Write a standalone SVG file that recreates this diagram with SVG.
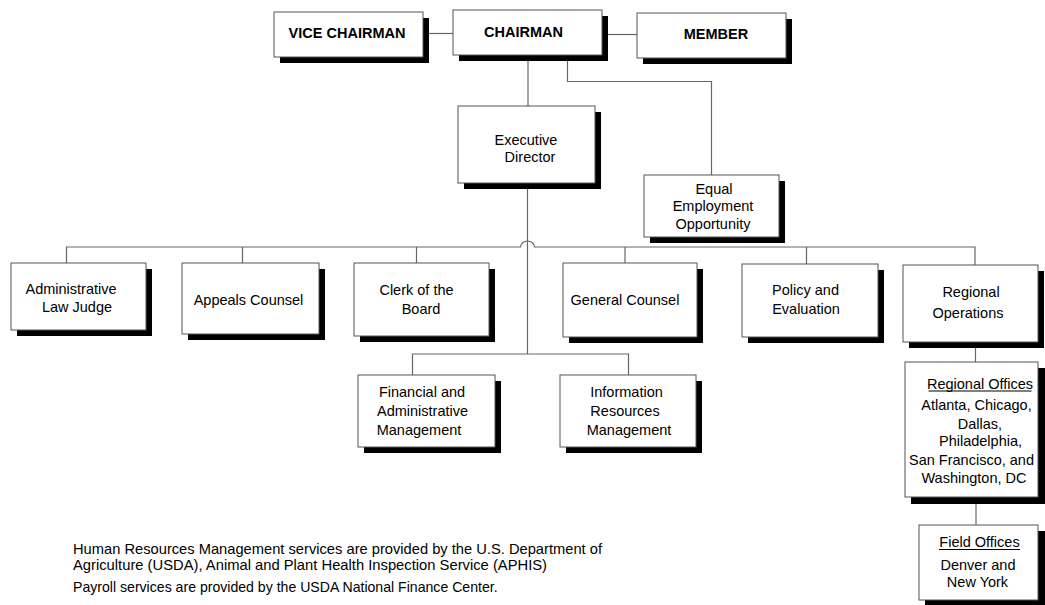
<svg xmlns="http://www.w3.org/2000/svg" width="1045" height="605" viewBox="0 0 1045 605">
<style>
.sh{fill:#000}
.bx{fill:#fff;stroke:#555;stroke-width:1}
.t{font-family:"Liberation Sans",Arial,sans-serif;font-size:14.5px;fill:#000;text-anchor:middle}
.b{font-weight:bold}
.n{font-family:"Liberation Sans",Arial,sans-serif;font-size:14.1px;fill:#000}
.c{fill:none;stroke:#666;stroke-width:1.2}
</style>
<rect width="1045" height="605" fill="#fff"/>
<g id="connectors">
<path class="c" d="M423,33.5 H453"/>
<path class="c" d="M606,34.5 H637"/>
<path class="c" d="M528,61 V106"/>
<path class="c" d="M567.5,61 V81.5 H711.5 V175"/>
<path class="c" d="M527.5,183 V354"/>
<path class="c" d="M66.5,263 V247 H520.5 A7,6 0 0 1 534.5,247 H975 V265"/>
<path class="c" d="M242.5,247 V263"/>
<path class="c" d="M416.5,247 V263"/>
<path class="c" d="M625,247 V263"/>
<path class="c" d="M806.5,247 V264"/>
<path class="c" d="M412.5,375 V354 H628.5 V375"/>
<path class="c" d="M975.5,348 V362"/>
<path class="c" d="M976,504 V525"/>
</g>
<g id="vice-chairman">
<rect class="sh" x="280" y="18" width="149" height="45"/>
<rect class="bx" x="274" y="12" width="149" height="45"/>
<text class="t b" x="347" y="38">VICE CHAIRMAN</text>
</g>
<g id="chairman">
<rect class="sh" x="459" y="16" width="149" height="45"/>
<rect class="bx" x="453" y="10" width="149" height="45"/>
<text class="t b" x="523.5" y="37">CHAIRMAN</text>
</g>
<g id="member">
<rect class="sh" x="643" y="19" width="149" height="45"/>
<rect class="bx" x="637" y="13" width="149" height="45"/>
<text class="t b" x="716" y="38.5">MEMBER</text>
</g>
<g id="executive-director">
<rect class="sh" x="464" y="112" width="137" height="77"/>
<rect class="bx" x="458" y="106" width="137" height="77"/>
<text class="t" x="526" y="145">Executive</text>
<text class="t" x="530" y="162">Director</text>
</g>
<g id="eeo">
<rect class="sh" x="650" y="181" width="135" height="62"/>
<rect class="bx" x="644" y="175" width="135" height="62"/>
<text class="t" x="714" y="193.5">Equal</text>
<text class="t" x="713" y="211">Employment</text>
<text class="t" x="713" y="228.5">Opportunity</text>
</g>
<g id="admin-law-judge">
<rect class="sh" x="17" y="269" width="135" height="67"/>
<rect class="bx" x="11" y="263" width="135" height="67"/>
<text class="t" x="71" y="293.5">Administrative</text>
<text class="t" x="77" y="311.5">Law Judge</text>
</g>
<g id="appeals-counsel">
<rect class="sh" x="188" y="269" width="137" height="71"/>
<rect class="bx" x="182" y="263" width="137" height="71"/>
<text class="t" x="248.5" y="305">Appeals Counsel</text>
</g>
<g id="clerk">
<rect class="sh" x="360" y="269" width="135" height="73"/>
<rect class="bx" x="354" y="263" width="135" height="73"/>
<text class="t" x="416.5" y="295">Clerk of the</text>
<text class="t" x="421" y="313.5">Board</text>
</g>
<g id="general-counsel">
<rect class="sh" x="569" y="269" width="134" height="74"/>
<rect class="bx" x="563" y="263" width="134" height="74"/>
<text class="t" x="625" y="305">General Counsel</text>
</g>
<g id="policy">
<rect class="sh" x="748" y="270" width="136" height="73"/>
<rect class="bx" x="742" y="264" width="136" height="73"/>
<text class="t" x="805.5" y="295">Policy and</text>
<text class="t" x="806" y="314">Evaluation</text>
</g>
<g id="regional-operations">
<rect class="sh" x="909" y="271" width="135" height="77"/>
<rect class="bx" x="903" y="265" width="135" height="77"/>
<text class="t" x="971" y="297">Regional</text>
<text class="t" x="968" y="317.5">Operations</text>
</g>
<g id="financial">
<rect class="sh" x="364" y="381" width="137" height="72"/>
<rect class="bx" x="358" y="375" width="137" height="72"/>
<text class="t" x="422" y="397">Financial and</text>
<text class="t" x="422.5" y="416">Administrative</text>
<text class="t" x="419" y="434.5">Management</text>
</g>
<g id="information-resources">
<rect class="sh" x="566" y="381" width="136" height="72"/>
<rect class="bx" x="560" y="375" width="136" height="72"/>
<text class="t" x="626.5" y="397">Information</text>
<text class="t" x="625" y="416">Resources</text>
<text class="t" x="629" y="434.5">Management</text>
</g>
<g id="regional-offices">
<rect class="sh" x="911" y="368" width="134" height="136"/>
<rect class="bx" x="905" y="362" width="133" height="135"/>
<text class="t" x="980" y="388.5">Regional Offices</text>
<line x1="928.5" y1="391" x2="1031.5" y2="391" stroke="#000" stroke-width="1"/>
<text class="t" x="976.5" y="410">Atlanta, Chicago,</text>
<text class="t" x="980" y="428.5">Dallas,</text>
<text class="t" x="980.5" y="446">Philadelphia,</text>
<text class="t" x="971.5" y="465">San Francisco, and</text>
<text class="t" x="974" y="483">Washington, DC</text>
</g>
<g id="field-offices">
<rect class="sh" x="925" y="531" width="120" height="75"/>
<rect class="bx" x="919" y="525" width="119" height="75"/>
<text class="t" x="979.5" y="547">Field Offices</text>
<line x1="939" y1="549.5" x2="1020" y2="549.5" stroke="#000" stroke-width="1"/>
<text class="t" x="978" y="570">Denver and</text>
<text class="t" x="977.5" y="587">New York</text>
</g>
<g id="notes">
<text class="n" x="73" y="554" textLength="529" lengthAdjust="spacingAndGlyphs">Human Resources Management services are provided by the U.S. Department of</text>
<text class="n" x="73" y="570" textLength="474" lengthAdjust="spacingAndGlyphs">Agriculture (USDA), Animal and Plant Health Inspection Service (APHIS)</text>
<text class="n" x="73" y="592">Payroll services are provided by the USDA National Finance Center.</text>
</g>
</svg>
